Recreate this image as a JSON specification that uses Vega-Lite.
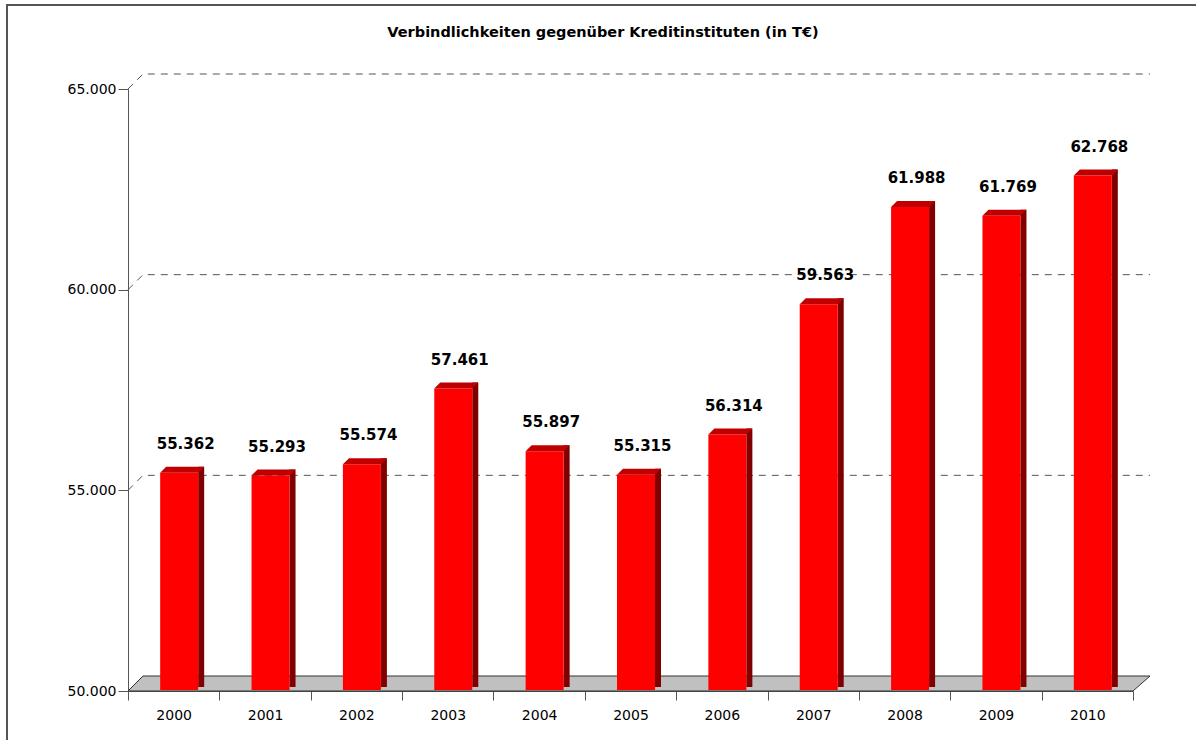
{
  "$schema": "https://vega.github.io/schema/vega-lite/v6.json",
  "width": 1192,
  "height": 738,
  "autosize": {"type": "none"},
  "padding": {"left": 7, "top": 5, "right": -3, "bottom": -3},
  "background": "white",
  "title": {
    "text": "Verbindlichkeiten gegenüber Kreditinstituten (in T€)",
    "anchor": "middle",
    "frame": "group",
    "offset": -35,
    "font": "DejaVu Sans",
    "fontSize": 14.5,
    "fontWeight": "bold",
    "color": "#000000"
  },
  "config": {
    "locale": {"number": {"decimal": ",", "thousands": ".", "grouping": [3], "currency": ["", " €"]}},
    "view": {"stroke": "#555555", "strokeWidth": 2},
    "axis": {"grid": false, "title": null, "labelFont": "DejaVu Sans", "labelFontSize": 14, "labelColor": "#000000", "domainColor": "#555555", "tickColor": "#555555"}
  },
  "data": {
    "values": [
      {"year": "2000", "value": 55362},
      {"year": "2001", "value": 55293},
      {"year": "2002", "value": 55574},
      {"year": "2003", "value": 57461},
      {"year": "2004", "value": 55897},
      {"year": "2005", "value": 55315},
      {"year": "2006", "value": 56314},
      {"year": "2007", "value": 59563},
      {"year": "2008", "value": 61988},
      {"year": "2009", "value": 61769},
      {"year": "2010", "value": 62768}
    ]
  },
  "encoding": {
    "x": {
      "field": "year",
      "type": "nominal",
      "scale": {"type": "band", "range": [121, 1126], "paddingInner": 0, "paddingOuter": 0},
      "axis": {"orient": "bottom", "offset": -52, "labelAngle": 0, "tickBand": "extent", "tickSize": 9, "labelPadding": 8}
    }
  },
  "layer": [
    {
      "data": {"values": [{"base": 50000}]},
      "mark": {"type": "point", "shape": "M 0 0 L 100.5 0 L 102.2 -1.5 L 1.5 -1.5 Z", "size": 400, "filled": true, "fill": "#c0c0c0", "stroke": "#333333", "strokeWidth": 1, "opacity": 1},
      "encoding": {
        "x": {"datum": "2000", "type": "nominal", "bandPosition": 0},
        "y": {"field": "base", "type": "quantitative"}
      }
    },
    {
      "data": {"values": [{"grid": 55000}, {"grid": 60000}, {"grid": 65000}]},
      "mark": {"type": "point", "shape": "M 0 0 L 1.5 -1.5 L 102.2 -1.5", "size": 400, "filled": false, "fill": null, "stroke": "#555555", "strokeWidth": 1, "strokeDash": [7, 6], "opacity": 1},
      "encoding": {
        "x": {"datum": "2000", "type": "nominal", "bandPosition": 0},
        "y": {"field": "grid", "type": "quantitative"}
      }
    },
    {
      "mark": {"type": "bar", "width": 6, "xOffset": 27.5, "yOffset": -9, "y2Offset": -4, "color": "#800000"},
      "encoding": {
        "y": {
          "field": "value",
          "type": "quantitative",
          "scale": {"domain": [50000, 65000], "range": [686, 84], "nice": false, "zero": false},
          "axis": {"orient": "left", "offset": -121, "values": [50000, 55000, 60000, 65000], "format": ",.0f", "tickSize": 10, "labelPadding": 2}
        },
        "y2": {"datum": 50000}
      }
    },
    {
      "mark": {"type": "bar", "width": 38, "xOffset": 5.5, "yOffset": -3, "y2Offset": -1, "color": "#ff0000"},
      "encoding": {
        "y": {"field": "value", "type": "quantitative"},
        "y2": {"datum": 50000}
      }
    },
    {
      "mark": {"type": "point", "shape": "M -1.9 0 L 1.9 0 L 2.5 -0.6 L -1.3 -0.6 Z", "size": 400, "filled": true, "fill": "#c00000", "strokeWidth": 0, "opacity": 1, "xOffset": 5.5, "yOffset": -3},
      "encoding": {
        "y": {"field": "value", "type": "quantitative"}
      }
    },
    {
      "mark": {"type": "text", "font": "DejaVu Sans", "fontSize": 15, "fontWeight": "bold", "color": "#000000", "baseline": "middle", "align": "center", "xOffset": 12, "yOffset": -32},
      "encoding": {
        "y": {"field": "value", "type": "quantitative"},
        "text": {"field": "value", "type": "quantitative", "format": ",.0f"}
      }
    }
  ]
}
